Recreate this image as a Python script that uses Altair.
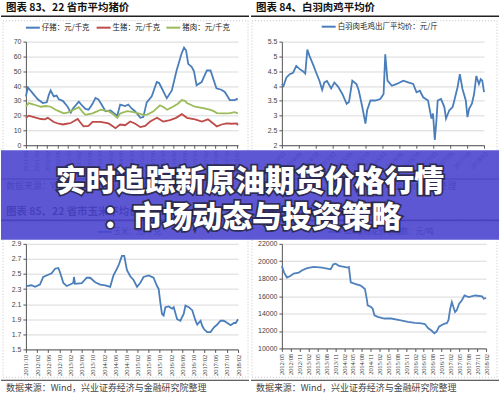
import altair as alt
import pandas as pd

FONT_CJK = "Noto Sans CJK SC"
V = alt.value

# ---------------- text ----------------
banner_line1 = "实时追踪新原油期货价格行情"
banner_line2 = "：市场动态与投资策略"
source_text = "数据来源：Wind，兴业证券经济与金融研究院整理"

# ---------------- panel 83: pig prices ----------------
p83_title = "图表 83、22 省市平均猪价"
p83_names = ["仔猪：元/千克", "生猪：元/千克", "猪肉：元/千克"]
p83_colors = ["#4a7ebb", "#be4b48", "#9bbb59"]
piglet_dates = ["2011-06-01","2011-06-24","2011-08-20","2011-10-16","2011-12-13","2012-01-28","2012-02-21","2012-03-13","2012-04-18","2012-05-21","2012-06-15","2012-08-01","2012-09-25","2012-11-01","2012-11-22","2013-02-01","2013-03-16","2013-04-19","2013-05-25","2013-07-10","2013-08-13","2013-09-16","2013-10-22","2013-12-07","2014-02-03","2014-03-07","2014-04-22","2014-05-25","2014-07-22","2014-08-27","2014-10-01","2014-11-16","2015-01-13","2015-02-16","2015-03-28","2015-05-25","2015-07-22","2015-08-18","2015-09-18","2015-11-15","2016-01-12","2016-03-07","2016-05-04","2016-06-01","2016-06-25","2016-07-19","2016-08-28","2016-09-24","2016-10-24","2016-12-21","2017-02-20","2017-04-03","2017-06-10","2017-08-06","2017-09-15","2017-11-12","2018-01-06","2018-02-12"]
piglet_vals = [33,39,35,31,28.5,29,34,37,33,33.5,31,30,26,22,24.5,29.5,26.5,24.5,24,28,32,31,27.5,23,23.5,22,20,27.5,26.5,27.5,25,22.8,18.5,19,29,33,42.7,42,38.5,31.7,37,50.5,62,66,64,55,53,50,40.5,42.7,50.5,50.5,38.5,37.5,36,30.5,30.5,31.5]
hog_dates = ["2011-06-01","2011-07-04","2011-09-01","2011-11-21","2012-01-06","2012-02-09","2012-04-18","2012-06-15","2012-08-01","2012-09-15","2012-11-01","2013-01-19","2013-02-24","2013-03-28","2013-05-25","2013-07-10","2013-10-10","2014-01-10","2014-02-25","2014-04-01","2014-05-25","2014-07-22","2014-09-18","2014-11-16","2015-01-13","2015-03-10","2015-05-07","2015-07-25","2015-10-04","2015-12-22","2016-03-01","2016-05-07","2016-07-04","2016-10-06","2016-12-25","2017-03-04","2017-04-28","2017-06-15","2017-08-10","2017-10-06","2017-12-04","2018-02-01","2018-02-12"]
hog_vals = [18.5,20,19,17.7,17.5,18.5,15.7,14.5,14,14.5,15,17.7,15,12.7,13,15.7,15.7,14.7,13,11.5,14,13.5,16,14.5,12.2,13,16,18.5,16,17,18.5,21,18.5,17.5,16,17.5,15,12.7,14,14.7,14.5,14.7,13.5]
pork_dates = ["2011-06-01","2011-07-04","2011-09-01","2011-11-21","2012-01-16","2012-03-13","2012-05-10","2012-06-15","2012-08-10","2012-09-25","2012-12-04","2013-02-01","2013-03-16","2013-04-19","2013-07-10","2013-09-06","2013-10-10","2014-01-10","2014-03-07","2014-04-22","2014-05-25","2014-08-15","2014-10-12","2014-12-10","2015-02-16","2015-04-01","2015-06-10","2015-08-28","2015-10-16","2015-11-18","2016-01-25","2016-03-22","2016-05-07","2016-06-12","2016-07-04","2016-10-06","2017-01-06","2017-03-25","2017-05-10","2017-06-15","2017-09-15","2017-11-12","2018-01-06","2018-02-12"]
pork_vals = [26,28.5,27.5,26,26.5,26,24,23,21.5,22,24,25.7,22.5,20.5,21.5,23,24,23,21,18.5,21.5,23,22.5,21.7,20.5,20.7,22.7,27,25.5,24,26,28,30.5,30,28.5,26,25,24,23,21.7,21.5,21.7,22.3,21.5]
p83_xticks = ["2011/06","2011/10","2012/02","2012/06","2012/10","2013/02","2013/06","2013/10","2014/02","2014/06","2014/10","2015/02","2015/06","2015/10","2016/02","2016/06","2016/10","2017/02","2017/06","2017/10","2018/02"]
p83_xrange = ["2011-06-01", "2018-02-15"]
p83_yticks = [0, 10, 20, 30, 40, 50, 60, 70]

# ---------------- panel 84: broiler price ----------------
p84_title = "图表 84、白羽肉鸡平均价"
p84_names = ["白羽肉毛鸡出厂平均价：元/斤"]
p84_colors = ["#4a7ebb"]
chicken_dates = ["2014-02-01","2014-02-13","2014-03-06","2014-03-30","2014-04-23","2014-05-16","2014-06-10","2014-07-03","2014-07-20","2014-08-04","2014-08-20","2014-09-14","2014-10-07","2014-10-31","2014-11-19","2014-12-05","2014-12-24","2015-01-23","2015-02-15","2015-03-14","2015-04-14","2015-05-15","2015-06-01","2015-06-25","2015-07-25","2015-08-11","2015-09-05","2015-09-28","2015-10-10","2015-11-03","2015-12-08","2016-01-13","2016-02-06","2016-02-18","2016-03-05","2016-04-06","2016-05-11","2016-06-27","2016-08-02","2016-09-07","2016-10-01","2016-10-25","2016-11-18","2016-12-23","2017-01-17","2017-01-28","2017-02-10","2017-02-22","2017-03-03","2017-03-27","2017-04-20","2017-05-02","2017-05-26","2017-06-19","2017-07-01","2017-07-24","2017-08-10","2017-08-29","2017-09-22","2017-10-04","2017-10-16","2017-11-05","2017-11-21","2017-12-07","2017-12-26","2018-01-08","2018-01-19","2018-02-01"]
chicken_vals = [4.07,4.0,4.29,4.4,4.45,4.68,4.57,4.5,4.42,5.23,5.01,4.73,4.45,4.17,3.87,4.12,4.17,3.92,4.12,3.98,3.73,3.4,3.46,4.18,4.07,3.84,3.29,2.73,3.18,3.51,3.51,3.56,3.73,5.07,4.18,4.01,4.07,4.18,4.12,4.07,3.79,3.84,3.62,3.51,2.9,3.07,2.18,2.85,3.51,3.56,3.29,2.9,3.18,3.29,3.51,3.95,4.4,3.9,3.51,2.95,3.23,3.4,3.73,4.34,4.07,4.23,4.18,3.79]
p84_xticks = ["2014/02","2014/06","2014/10","2015/02","2015/06","2015/10","2016/02","2016/06","2016/10","2017/02","2017/06","2017/10","2018/02"]
p84_xrange = ["2014-02-01", "2018-02-01"]
p84_yticks = [2, 2.5, 3, 3.5, 4, 4.5, 5, 5.5]

# ---------------- panel 85: corn price ----------------
p85_title = "图表 85、22 省市玉米平均价"
p85_names = ["玉米：元/千克"]
p85_colors = ["#4a7ebb"]
corn_dates = ["2011-10-08","2011-12-02","2012-01-08","2012-03-02","2012-04-07","2012-06-01","2012-07-08","2012-08-14","2012-09-19","2012-10-08","2012-11-13","2012-12-20","2013-01-26","2013-03-01","2013-03-09","2013-03-20","2013-06-02","2013-07-26","2013-09-01","2013-10-26","2013-12-20","2014-02-13","2014-04-08","2014-05-13","2014-07-07","2014-08-14","2014-09-08","2014-10-08","2014-11-13","2014-12-19","2015-01-26","2015-03-01","2015-04-07","2015-06-01","2015-07-25","2015-09-01","2015-09-19","2015-10-07","2015-10-25","2015-11-12","2015-12-01","2016-01-07","2016-02-13","2016-03-01","2016-04-07","2016-05-13","2016-06-01","2016-06-18","2016-07-07","2016-08-12","2016-09-19","2016-10-25","2016-11-13","2016-12-19","2017-01-07","2017-01-25","2017-03-01","2017-04-07","2017-05-12","2017-06-19","2017-07-25","2017-08-30","2017-10-07","2017-11-12","2017-12-18","2018-01-06","2018-02-01"]
corn_vals = [2.34,2.35,2.33,2.36,2.46,2.49,2.51,2.57,2.58,2.52,2.38,2.34,2.36,2.38,2.46,2.37,2.38,2.45,2.45,2.39,2.36,2.35,2.33,2.48,2.61,2.74,2.74,2.55,2.47,2.42,2.33,2.38,2.46,2.48,2.45,2.34,2.3,2.12,1.97,1.95,2.06,2.07,2.04,2.06,1.9,1.88,1.93,1.97,2.08,2.06,2.02,1.88,1.83,1.88,1.81,1.77,1.73,1.73,1.79,1.83,1.88,1.88,1.85,1.82,1.85,1.85,1.9]
p85_xticks = ["2011/10","2012/02","2012/06","2012/10","2013/02","2013/06","2013/10","2014/02","2014/06","2014/10","2015/02","2015/06","2015/10","2016/02","2016/06","2016/10","2017/02","2017/06","2017/10","2018/02"]
p85_xrange = ["2011-10-01", "2018-02-01"]
p85_yticks = [1.5, 1.7, 1.9, 2.1, 2.3, 2.5, 2.7, 2.9]

# ---------------- panel 86: cotton price ----------------
p86_title = "图表 86、棉花价格指数"
p86_names = ["328级棉花价格指数：元/吨"]
p86_colors = ["#4f81bd"]
cotton_dates = ["2012-05-01","2012-05-24","2012-06-22","2012-07-26","2012-08-31","2012-10-22","2012-11-26","2013-01-17","2013-03-26","2013-06-20","2013-09-15","2013-10-13","2013-11-06","2013-12-11","2014-02-02","2014-03-06","2014-03-22","2014-04-10","2014-06-01","2014-07-22","2014-09-03","2014-09-24","2014-10-01","2014-11-05","2014-11-22","2014-12-10","2015-01-13","2015-03-22","2015-05-30","2015-08-26","2015-11-21","2016-01-30","2016-04-07","2016-05-12","2016-06-16","2016-07-19","2016-08-17","2016-09-10","2016-10-05","2016-11-02","2016-12-07","2016-12-23","2017-01-10","2017-01-28","2017-02-14","2017-03-02","2017-03-19","2017-04-05","2017-04-30","2017-05-27","2017-06-24","2017-08-05","2017-10-14","2017-12-22","2018-01-09","2018-02-02"]
cotton_vals = [19458,18700,18136,18300,18590,18700,18970,19200,19345,19270,19080,19650,19720,19460,19350,19270,19340,17570,17380,17200,16820,15550,14940,14750,14560,13800,13620,13430,13430,13240,13050,12940,12870,12800,12300,12050,11740,11930,12490,12680,12870,12870,13240,14560,15310,14750,14180,14370,15120,15500,16070,15880,16070,15960,15690,15780]
p86_xticks = ["2012/05","2012/08","2012/11","2013/02","2013/05","2013/08","2013/11","2014/02","2014/05","2014/08","2014/11","2015/02","2015/05","2015/08","2015/11","2016/02","2016/05","2016/08","2016/11","2017/02","2017/05","2017/08","2017/11","2018/02"]
p86_xrange = ["2012-05-01", "2018-02-01"]
p86_yticks = [10000, 12000, 14000, 16000, 18000, 20000, 22000]

ONE = pd.DataFrame({"k": [0]})


def to_dt(s):
    if "/" in s:
        y, m = s.split("/")
        d = 1
    else:
        y, m, d = s.split("-")
    return alt.DateTime(year=int(y), month=int(m), date=int(d), utc=True)


def long_df(names, date_lists, val_lists):
    rows = []
    for n, ds, vs in zip(names, date_lists, val_lists):
        for d, v in zip(ds, vs):
            rows.append({"series": n, "date": d, "value": v})
    return pd.DataFrame(rows)


def line_layer(df, names, colors, xrange, xticks, angle, ydom, yticks):
    return alt.Chart(df).mark_line(strokeWidth=1.8).encode(
        x=alt.X("date:T",
                scale=alt.Scale(type="utc", domain=[to_dt(xrange[0]), to_dt(xrange[1])], nice=False),
                axis=alt.Axis(values=[to_dt(t) for t in xticks], format="%Y/%m", labelAngle=angle,
                              labelFontSize=6.5, labelFont="Liberation Serif", labelColor="#333",
                              tickSize=3, tickColor="#555", domainColor="#555", grid=False,
                              title=None, labelPadding=2, labelOverlap=False, labelFlush=False)),
        y=alt.Y("value:Q",
                scale=alt.Scale(domain=ydom, nice=False, zero=False),
                axis=alt.Axis(values=yticks, labelExpr="format(datum.value, '~g')",
                              labelFontSize=7, labelFont="Liberation Sans",
                              labelColor="#444", tickSize=3, tickColor="#555", domainColor="#555",
                              gridColor="#d9d9d9", title=None, labelPadding=2)),
        color=alt.Color("series:N", scale=alt.Scale(domain=names, range=colors), legend=None),
    )


def hrule(x0, x1, y, o, color, width, dash=None):
    kw = dict(color=color, strokeWidth=width)
    if dash:
        kw["strokeDash"] = dash
    return alt.Chart(ONE).mark_rule(**kw).encode(x=V(x0 - o[0]), x2=V(x1 - o[0]), y=V(y - o[1]))


def label(s, x, y, o, size, color, weight="normal", font=FONT_CJK, align="left"):
    return alt.Chart(ONE).mark_text(align=align, baseline="middle", fontSize=size, fontWeight=weight,
                                    font=font, color=color).encode(x=V(x - o[0]), y=V(y - o[1]), text=V(s))


def frame(x0, x1, y0, y1, o):
    return alt.Chart(ONE).mark_rect(fill="transparent", stroke="#c4c4c4", strokeWidth=1,
                                    strokeDash=[1, 2]).encode(
        x=V(x0 - o[0]), x2=V(x1 - o[0]), y=V(y0 - o[1]), y2=V(y1 - o[1]))


def decorations(o, cx0, cx1, top, header, legend_items, legend_y, frame_box, foot_rule_y, foot_y):
    layers = [frame(*frame_box, o)]
    layers.append(label(header, cx0 + 5, top + 7.5, o, 10.5, "#111", weight="bold"))
    layers.append(hrule(cx0, cx1, top + 15.5, o, "#222", 1.6))
    for name, color, lx in legend_items:
        layers.append(hrule(lx, lx + 14, legend_y, o, color, 2))
        layers.append(label(name, lx + 16, legend_y, o, 7.5, "#222"))
    layers.append(hrule(cx0, cx1, foot_rule_y, o, "#333", 1))
    layers.append(label(source_text, cx0 + 5, foot_y, o, 9, "#444"))
    return layers


# ---------------- panels ----------------
COL2 = 282  # left edge of the right-hand plots

o83 = (25, 41)
df83 = long_df(p83_names, [piglet_dates, hog_dates, pork_dates], [piglet_vals, hog_vals, pork_vals])
bbox = alt.Chart(ONE).mark_rect(opacity=0).encode(x=V(-25), x2=V(475), y=V(-41), y2=V(355))
tl = alt.layer(
    bbox,
    *decorations(o83, 0, 249, 0, p83_title,
                 [(p83_names[0], p83_colors[0], 25), (p83_names[1], p83_colors[1], 96),
                  (p83_names[2], p83_colors[2], 166)], 27, (2, 248, 20, 176), 179, 186),
    line_layer(df83, p83_names, p83_colors, p83_xrange, p83_xticks, -90, [0, 70], p83_yticks),
).properties(width=213, height=104)

o84 = (COL2, 41)
df84 = long_df(p84_names, [chicken_dates], [chicken_vals])
tr = alt.layer(
    *decorations(o84, 251, 500, 0, p84_title, [(p84_names[0], p84_colors[0], 322)], 26,
                 (252, 498, 20, 176), 179, 186),
    line_layer(df84, p84_names, p84_colors, p84_xrange, p84_xticks, -45, [2, 5.5], p84_yticks),
).properties(width=203, height=104)

o85 = (25, 244)
df85 = long_df(p85_names, [corn_dates], [corn_vals])
bl = alt.layer(
    *decorations(o85, 0, 249, 205, p85_title, [(p85_names[0], p85_colors[0], 97)], 232,
                 (2, 248, 224, 378), 381, 389),
    line_layer(df85, p85_names, p85_colors, p85_xrange, p85_xticks, -90, [1.5, 2.9], p85_yticks),
).properties(width=213, height=106)

o86 = (COL2, 244)
df86 = long_df(p86_names, [cotton_dates], [cotton_vals])


def banner_text(s, x, y, align, outline):
    kw = dict(align=align, baseline="middle", fontSize=30, fontWeight=900, font=FONT_CJK)
    if outline:
        kw.update(color="#1e1e2a", stroke="#1e1e2a", strokeWidth=3.5, strokeOpacity=0.75)
    else:
        kw.update(color="white")
    return alt.Chart(ONE).mark_text(**kw).encode(x=V(x - o86[0]), y=V(y - o86[1]), text=V(s))


banner = [
    alt.Chart(ONE).mark_rect(color="#4b45cf", opacity=0.9).encode(
        x=V(0 - o86[0]), x2=V(500 - o86[0]), y=V(150 - o86[1]), y2=V(240 - o86[1])),
    banner_text(banner_line1, 250, 182, "center", True),
    banner_text(banner_line2, 402, 218, "right", True),
    banner_text(banner_line1, 250, 182, "center", False),
    banner_text(banner_line2, 402, 218, "right", False),
]
br = alt.layer(
    *decorations(o86, 251, 500, 205, p86_title, [(p86_names[0], p86_colors[0], 328)], 232,
                 (252, 498, 224, 378), 381, 389),
    line_layer(df86, p86_names, p86_colors, p86_xrange, p86_xticks, -90, [10000, 22000], p86_yticks),
    *banner,
).properties(width=205, height=105)

chart = alt.concat(
    tl, tr, bl, br, columns=2, spacing={"row": 99, "column": COL2 - 25 - 213}, bounds="flush"
).resolve_scale(
    x="independent", y="independent", color="independent"
).properties(padding=0, background="white").configure_view(stroke=None)

chart.save("out.html", embed_options={"renderer": "svg", "actions": False})
